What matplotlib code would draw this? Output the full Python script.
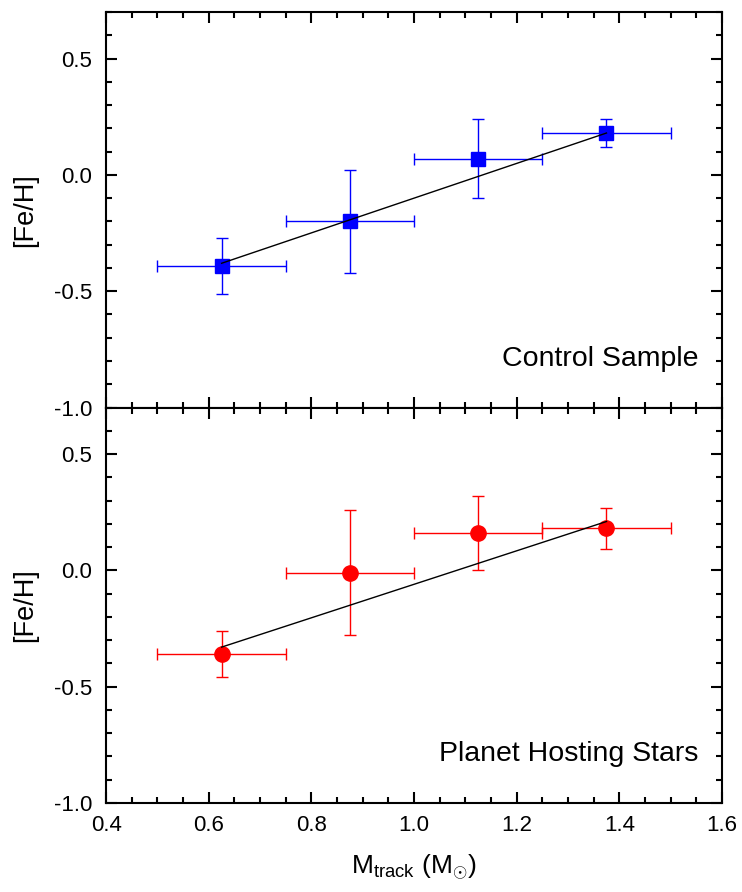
import matplotlib
matplotlib.use("Agg")
import matplotlib.pyplot as plt
from matplotlib.ticker import MultipleLocator, FormatStrFormatter

plt.rcParams['font.family'] = ['Liberation Sans', 'DejaVu Sans']
plt.rcParams['mathtext.fontset'] = 'custom'
plt.rcParams['mathtext.rm'] = 'Liberation Sans'
plt.rcParams['mathtext.it'] = 'Liberation Sans'

# mass bins (centres and half widths)
mass = [0.625, 0.875, 1.125, 1.375]
mass_err = [0.125, 0.125, 0.125, 0.125]

# control sample
feh_ctrl = [-0.39, -0.20, 0.07, 0.18]
feh_ctrl_err = [0.12, 0.22, 0.17, 0.06]
fit_ctrl = [-0.38, 0.18]

# planet hosting stars
feh_host = [-0.36, -0.01, 0.16, 0.18]
feh_host_err = [0.10, 0.27, 0.16, 0.09]
fit_host = [-0.33, 0.21]

fit_x = [mass[0], mass[-1]]

fig = plt.figure(figsize=(7.42, 8.92), dpi=100)
fig.subplots_adjust(left=0.143, right=0.973, top=0.9865, bottom=0.0998, hspace=0)
ax1 = fig.add_subplot(2, 1, 1)
ax2 = fig.add_subplot(2, 1, 2, sharex=ax1)

panels = [
    (ax1, feh_ctrl, feh_ctrl_err, fit_ctrl, 's', '#0000ff', 10, "Control Sample"),
    (ax2, feh_host, feh_host_err, fit_host, 'o', '#ff0000', 11, "Planet Hosting Stars"),
]

for ax, y, yerr, fit, mk, col, ms, label in panels:
    ax.plot(fit_x, fit, color='black', lw=1.0, zorder=3)
    ax.errorbar(mass, y, xerr=mass_err, yerr=yerr, fmt=mk, color=col,
                ms=ms, mec=col, mfc=col, elinewidth=1.0, capsize=4.5,
                capthick=1.0, ecolor=col, zorder=2)
    ax.set_xlim(0.4, 1.6)
    ax.set_ylim(-1.0, 0.7)
    ax.xaxis.set_major_locator(MultipleLocator(0.2))
    ax.xaxis.set_minor_locator(MultipleLocator(0.05))
    ax.yaxis.set_major_locator(MultipleLocator(0.5))
    ax.yaxis.set_minor_locator(MultipleLocator(0.1))
    ax.tick_params(which='both', direction='in', top=True, right=True,
                   width=1.5, labelsize=16)
    ax.tick_params(which='major', length=8)
    ax.tick_params(which='minor', length=4)
    ax.tick_params(axis='y', pad=10)
    for sp in ax.spines.values():
        sp.set_linewidth(1.5)
    ax.set_ylabel("[Fe/H]", fontsize=19.5, labelpad=11)
    ax.text(0.962, 0.09, label, transform=ax.transAxes, ha='right',
            va='bottom', fontsize=20.5)
    ax.yaxis.set_major_formatter(FormatStrFormatter('%.1f'))

ax1.tick_params(labelbottom=False)
ax2.xaxis.set_major_formatter(FormatStrFormatter('%.1f'))
ax2.tick_params(axis='x', pad=9)
ax2.set_xlabel(r"M$_{\rm track}$ (M$_{\odot}$)", fontsize=19, labelpad=12)

fig.savefig("out.png", dpi=100)
